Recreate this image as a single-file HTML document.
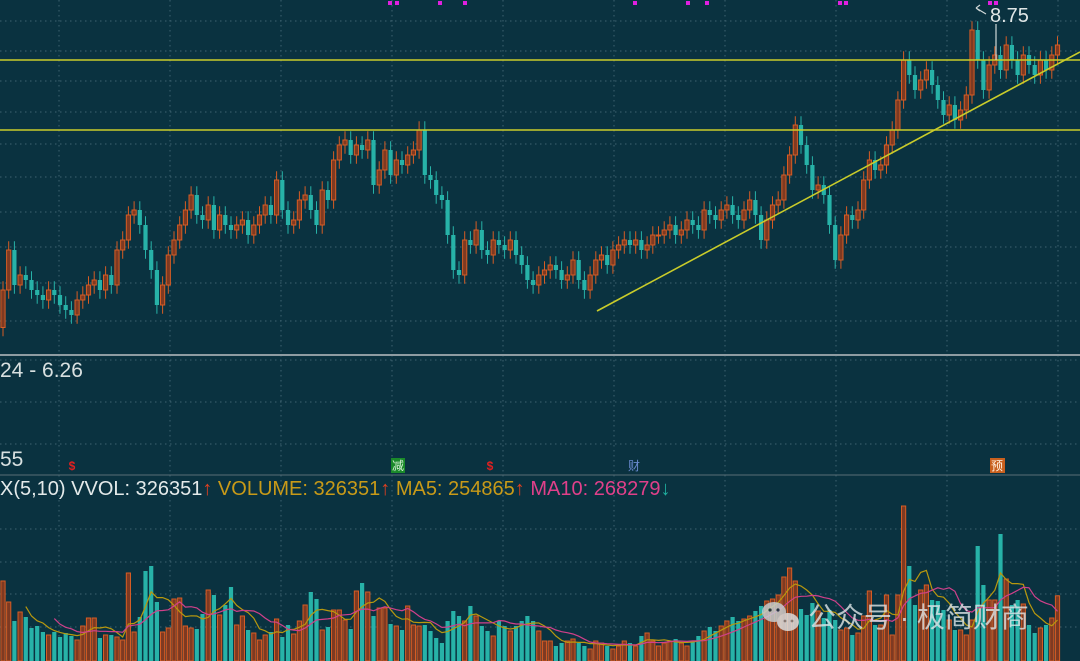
<!DOCTYPE html>
<html><head><meta charset="utf-8"><style>
html,body{margin:0;padding:0;background:#0a3240;width:1080px;height:661px;overflow:hidden;font-family:"Liberation Sans","Noto Sans CJK SC",sans-serif}
svg{position:absolute;left:0;top:0}
</style></head><body>
<svg id="chart" width="1080" height="661" viewBox="0 0 1080 661">
<rect x="0" y="0" width="1080" height="661" fill="#0a3240"/>
<g id="grid"></g>
<g id="candles"></g>
<g id="vols"></g>
<g id="malines"></g>
<line x1="0" y1="60" x2="1080" y2="60" stroke="#c9cc2a" stroke-width="1.6"/>
<line x1="0" y1="130" x2="1080" y2="130" stroke="#c9cc2a" stroke-width="1.6"/>
<line x1="597" y1="311" x2="1080" y2="52" stroke="#c9cc2a" stroke-width="1.6"/>
<line x1="996" y1="24" x2="996" y2="60" stroke="#d0d8d8" stroke-width="1.2"/>
<path d="M976 8 L986 14 M976 8 L980 5 M976 8 L980 11" stroke="#d0d8d8" stroke-width="1.2" fill="none"/>
<text x="990" y="22" fill="#dfe6e6" font-size="20">8.75</text>
<g id="marks"></g>
<line x1="0" y1="355" x2="1080" y2="355" stroke="#8e9ca2" stroke-width="2"/>
<text x="0" y="377" fill="#d8e0e0" font-size="21">24 - 6.26</text>
<text x="0" y="466" fill="#d8e0e0" font-size="21">55</text>
<line x1="0" y1="475" x2="1080" y2="475" stroke="#5a6e76" stroke-width="1"/>
<text x="72" y="470" fill="#e02020" font-size="12" font-weight="bold" text-anchor="middle">$</text>
<rect x="391" y="458" width="14" height="15" fill="#1a8a2a"/>
<text x="398" y="470" fill="#d8f0d8" font-size="12" text-anchor="middle">减</text>
<text x="490" y="470" fill="#e02020" font-size="12" font-weight="bold" text-anchor="middle">$</text>
<text x="634" y="470" fill="#6a8ad0" font-size="12" text-anchor="middle">财</text>
<rect x="990" y="458" width="15" height="15" fill="#c8601e"/>
<text x="997" y="470" fill="#fff0e0" font-size="12" text-anchor="middle">预</text>
<text x="0" y="495" font-size="20"><tspan fill="#e4eaea">X(5,10) VVOL: 326351</tspan><tspan fill="#e04020">↑ </tspan><tspan fill="#c89a18">VOLUME: 326351</tspan><tspan fill="#e04020">↑ </tspan><tspan fill="#c89a18">MA5: 254865</tspan><tspan fill="#e04020">↑ </tspan><tspan fill="#e0408a">MA10: 268279</tspan><tspan fill="#20b0a0">↓</tspan></text>
<g opacity="0.8">
<ellipse cx="774" cy="612" rx="12" ry="10" fill="#c8d4d8"/>
<ellipse cx="788" cy="622" rx="11" ry="9" fill="#dfe6e8"/>
<circle cx="770" cy="610" r="1.6" fill="#0a3240"/><circle cx="778" cy="610" r="1.6" fill="#0a3240"/>
<circle cx="785" cy="621" r="1.4" fill="#888"/><circle cx="792" cy="621" r="1.4" fill="#888"/>
<text x="808" y="627" fill="#dfe6e8" font-size="28">公众号 · 极简财商</text>
</g>
</svg>
<script>
const closes=[6.53,6.85,6.57,6.65,6.61,6.53,6.49,6.45,6.53,6.49,
6.41,6.37,6.33,6.45,6.49,6.57,6.61,6.53,6.65,6.57,
6.85,6.93,7.13,7.17,7.05,6.85,6.69,6.41,6.57,6.81,
6.93,7.05,7.17,7.29,7.13,7.09,7.21,7.01,7.13,7.05,
7.01,7.05,7.09,6.97,7.05,7.13,7.21,7.13,7.41,7.17,
7.05,7.09,7.25,7.29,7.17,7.05,7.33,7.25,7.57,7.69,
7.73,7.61,7.69,7.65,7.73,7.37,7.49,7.65,7.45,7.57,
7.53,7.61,7.65,7.81,7.45,7.41,7.29,7.25,6.97,6.69,
6.65,6.93,6.89,7.01,6.85,6.81,6.93,6.89,6.85,6.93,
6.81,6.73,6.61,6.57,6.65,6.69,6.73,6.69,6.61,6.65,
6.77,6.61,6.53,6.65,6.77,6.81,6.73,6.85,6.89,6.93,
6.89,6.93,6.85,6.89,6.97,6.97,7.01,7.05,6.97,7.01,
7.09,7.05,7.01,7.17,7.13,7.09,7.17,7.21,7.13,7.09,
7.17,7.25,7.13,6.93,7.09,7.21,7.25,7.45,7.61,7.85,
7.69,7.53,7.33,7.37,7.29,7.05,6.77,6.97,7.13,7.09,
7.17,7.41,7.57,7.49,7.53,7.69,7.81,8.05,8.37,8.25,
8.13,8.21,8.29,8.17,8.05,7.93,8.01,7.89,7.97,8.09,
8.61,8.37,8.13,8.33,8.41,8.29,8.49,8.37,8.25,8.41,
8.33,8.25,8.37,8.29,8.41,8.49];
const volumes=[400,295,200,245,220,165,175,145,130,145,
120,140,125,105,175,215,215,115,130,130,
120,105,440,145,220,450,475,295,145,165,
310,315,175,165,160,235,355,330,230,280,
370,180,225,155,140,105,130,145,210,120,
180,135,200,280,345,310,155,170,255,255,
205,160,350,390,345,225,265,265,185,175,
155,275,180,175,180,150,115,90,200,250,
225,200,275,225,175,150,125,200,175,150,
175,200,225,200,150,100,100,75,90,100,
110,90,75,60,100,90,75,60,75,100,
90,75,125,140,100,75,90,100,110,90,
75,100,125,150,170,150,175,200,220,200,
210,225,250,275,300,310,330,420,465,400,
260,230,290,250,215,255,205,155,165,130,
140,225,350,180,180,330,130,330,775,475,
280,355,380,305,300,255,205,155,155,130,
205,575,380,305,305,635,410,280,305,285,
180,140,165,180,215,326];
const markerX=[390,397,440,465,635,688,707,840,846,990,996];
const priceTicks=[21,51,81,112,144,177,212,247,283,321];

const NS="http://www.w3.org/2000/svg";
const X0=3,STEP=5.7,BW=4.2;
function xAt(i){return X0+STEP*i;}
function yPrice(p){return 125*(8.85-p);}
function yVol(v){return 661-v/5;}
function mk(tag,attrs,parent){const e=document.createElementNS(NS,tag);for(const k in attrs)e.setAttribute(k,attrs[k]);parent.appendChild(e);return e;}

const grid=document.getElementById('grid');
for(let k=0;k<10;k++){
  const gx=59+111*k;
  const l=mk('line',{x1:gx,y1:0,x2:gx,y2:661,stroke:'#3e6270','stroke-width':1,'stroke-dasharray':'1.5 3.5'},grid);
  
  
}
const hy=priceTicks.concat([360,402,444,529,562,594,627]);
hy.forEach(function(y){
  const l=mk('line',{x1:0,y1:y,x2:1080,y2:y,stroke:'#3e6270','stroke-width':1,'stroke-dasharray':'1.5 3.5'},grid);
  
  
});

const cg=document.getElementById('candles');
const vg=document.getElementById('vols');
const UP_S='#d65c24',UP_F='#7e3a22',DN='#27b2a8';
for(let i=0;i<closes.length;i++){
  const c=closes[i];
  const o=i>0?closes[i-1]:c-0.3;
  const up=c>=o;
  const hi=Math.max(o,c)+0.07, lo=Math.min(o,c)-0.07;
  const x=xAt(i);
  const w=mk('line',{x1:x,y1:yPrice(hi),x2:x,y2:yPrice(lo),stroke:up?UP_S:DN,'stroke-width':1},cg);
  
  
  const yt=yPrice(Math.max(o,c)),yb=yPrice(Math.min(o,c));
  const b=mk('rect',{x:x-BW/2,y:yt,width:BW,height:Math.max(1,yb-yt),fill:up?UP_F:DN,stroke:up?UP_S:DN,'stroke-width':up?1:0},cg);
  
  
  const v=volumes[i];
  const vb=mk('rect',{x:x-BW/2,y:yVol(v),width:BW,height:661-yVol(v),fill:up?UP_F:DN,stroke:up?UP_S:DN,'stroke-width':up?1:0},vg);
  
  
}
function maPath(n){
  let d='';
  for(let i=n-1;i<volumes.length;i++){
    let s=0;for(let j=i-n+1;j<=i;j++)s+=volumes[j];
    d+=(d?'L':'M')+xAt(i).toFixed(1)+' '+yVol(s/n).toFixed(1);
  }
  return d;
}
const mg=document.getElementById('malines');
const m5=mk('path',{d:maPath(5),stroke:'#b8980e',fill:'none','stroke-width':1.2},mg);


const m10=mk('path',{d:maPath(10),stroke:'#d0408a',fill:'none','stroke-width':1.2},mg);



const mkg=document.getElementById('marks');
markerX.forEach(function(x){
  const r=mk('rect',{x:x-2,y:1,width:4,height:4,fill:'#e020e0'},mkg);
  
  
});
</script>
</body></html>
